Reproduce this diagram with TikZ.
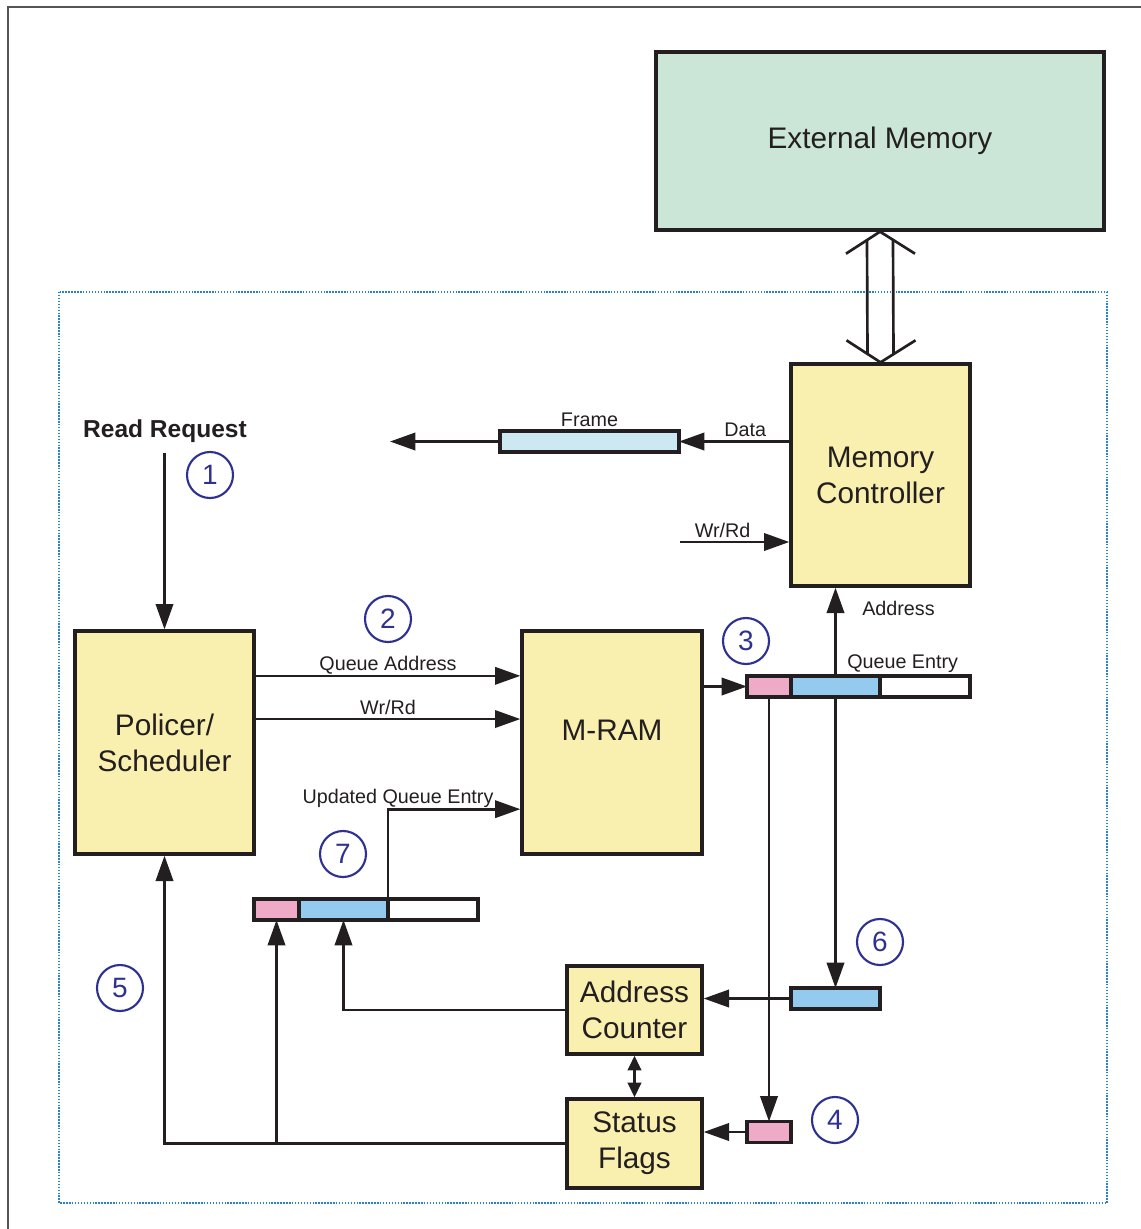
\documentclass[tikz,border=0pt]{standalone}
\usepackage{fontspec}
\setmainfont{Liberation Sans}
\usetikzlibrary{
  	positioning,
  	arrows.meta,
  	calc
  }
\definecolor{ink}{RGB}{35,31,32}
\definecolor{boxyellow}{RGB}{249,240,175}
\definecolor{memgreen}{RGB}{203,230,214}
\definecolor{framecyan}{RGB}{204,232,243}
\definecolor{entryblue}{RGB}{148,202,238}
\definecolor{entrypink}{RGB}{239,170,199}
\definecolor{numblue}{RGB}{46,49,146}
\definecolor{dotblue}{RGB}{40,130,200}
\definecolor{framegray}{RGB}{85,85,85}

\begin{document}
\begin{tikzpicture}[x=.75pt, y=-.75pt, >={Triangle[length=19pt,width=13pt]},
  blockbox/.style={draw=ink, line width=2.5pt, fill=boxyellow, align=center, inner sep=0pt, text=ink, font=\fontsize{22.3}{27}\selectfont},
  cell/.style={draw=ink, line width=2.3pt, minimum height=15.75pt, inner sep=0pt, outer sep=0pt},
  wire/.style={draw=ink, line width=2pt},
  lbl/.style={font=\fontsize{14.8}{17}\selectfont, inner sep=0pt, text=ink},
  stepnum/.style={circle, draw=numblue, text=numblue, line width=1.6pt, minimum size=34.5pt, inner sep=0pt, font=\fontsize{21}{24}\selectfont}]
	\useasboundingbox (0,0) rectangle (1141,1229);
	\draw[framegray, line width=2pt] (8,1240) -- (8,7) -- (1150,7);
	\draw[dotblue, line width=1.1pt, dash pattern=on 1.1pt off 1.1pt] (59,292) rectangle (1107,1203);
%
	\node[blockbox, fill=memgreen, minimum width=336pt, minimum height=133.5pt] (em) at (880,141) {External Memory};
	\node[blockbox, minimum width=134.25pt, minimum height=166.5pt] (mc) at (880.5,475) {Memory\\Controller};
	\node[blockbox, minimum width=134.25pt, minimum height=167.25pt] (ps) at (164.5,742.5) {Policer/\\Scheduler};
	\node[blockbox, minimum width=135pt, minimum height=167.25pt] (mram) at (612,742.5) {};
	\node[font=\fontsize{22.3}{27}\selectfont, text=ink] (mramtext) at (612,730) {M-RAM};
	\node[blockbox, minimum width=101.25pt, minimum height=66pt] (ac) at (634.5,1010) {Address\\Counter};
	\node[blockbox, minimum width=101.25pt, minimum height=66.75pt] (sf) at (634.5,1143.5) {Status\\Flags};
%
	\node[cell, fill=framecyan, minimum width=134.25pt] (frame) at (589.5,441.5) {};
	\node[lbl, above=3pt of frame] (framelab) {Frame};
%
	\node[cell, fill=entrypink, minimum width=33pt] (qeP) at (769,686.5) {};
	\node[cell, fill=entryblue, minimum width=66.75pt, right=0pt of qeP] (qeB) {};
	\node[cell, fill=white, minimum width=67.5pt, right=0pt of qeB] (qeW) {};
	\node[lbl, anchor=south west] (qelab) at ([xshift=-24.75pt, yshift=2pt]qeW.north west) {Queue Entry};
%
	\node[cell, fill=entrypink, minimum width=33.75pt] (u7P) at (276.5,909.5) {};
	\node[cell, fill=entryblue, minimum width=66.75pt, right=0pt of u7P] (u7B) {};
	\node[cell, fill=white, minimum width=67.5pt, right=0pt of u7B] (u7W) {};
%
	\node[cell, fill=entryblue, minimum width=66.75pt] (acB) at (835.5,998.5) {};
	\node[cell, fill=entrypink, minimum width=33pt] (sfP) at (769,1132) {};
%
	\node[font=\bfseries\fontsize{18.4}{22}\selectfont, text=ink, inner sep=0pt] (rr) at (165,431.5) {Read Request};
	\node[lbl, anchor=west] (addrlab) at (862,608) {Address};
	\node[lbl] (updlab) at (398,798.5) {Updated Queue Entry};
	\coordinate (frameout) at (390,441.5);
	\coordinate (wrrd) at (680,542);
	\coordinate (updin) at ([yshift=-50pt]mram.west);
%
	\foreach \n/\x/\y in {1/210/475, 2/388/619, 3/746/641, 4/835/1120, 5/120/988, 6/880/942, 7/343/854}
		\node[stepnum] (num\n) at (\x,\y) {\n};
%
	% external memory link
	\draw[wire] ($(em.south)+(-34,22)$) -- (em.south) -- ($(em.south)+(35,22)$);
	\draw[wire] ($(mc.north)+(-34,-22)$) -- (mc.north) -- ($(mc.north)+(35,-22)$);
	\draw[wire] ($(em.south)+(-13,8)$) -- ($(mc.north)+(-13,-8)$);
	\draw[wire] ($(em.south)+(13,8)$) -- ($(mc.north)+(13,-8)$);
%
	\draw[wire, ->] (frame.east -| mc.west) -- (frame.east) node[lbl, above=2.5pt, pos=.4] (datalab) {Data};
	\draw[wire, ->] (frame.west) -- (frameout);
	\draw[wire, ->] (wrrd) -- (wrrd -| mc.west) node[lbl, above=2.5pt, pos=.39] (wrlab) {Wr/Rd};
	\draw[wire, ->, shorten <=7pt] (rr.south -| ps.north) -- (ps.north);
%
	\draw[wire, ->] ([yshift=50pt]ps.east) -- ([yshift=50pt]mram.west) node[lbl, above=0pt, midway] (qalab) {Queue Address};
	\draw[wire, ->] ([yshift=17.6pt]ps.east) -- ([yshift=17.6pt]mram.west) node[lbl, above=2.5pt, midway] (wrlab2) {Wr/Rd};
	\draw[wire, ->] (u7B.north east) |- (updin);
	\draw[wire, ->] (qeP.west -| mram.east) -- (qeP.west);
%
	\draw[wire, ->] (qeB.north) -- (qeB.north |- mc.south);
	\draw[wire, ->] (qeB.south) -- (acB.north);
	\draw[wire, ->] (qeP.south) -- (sfP.north);
	\draw[wire, ->] (acB.west) -- (acB.west -| ac.east);
	\draw[wire, ->] (sfP.west) -- (sfP.west -| sf.east);
	\draw[wire, {Triangle[length=11pt,width=10pt]}-{Triangle[length=11pt,width=10pt]}] (ac.south) -- (sf.north);
%
	\draw[wire, ->] (ac.west) -| (u7B.south);
	\draw[wire, ->] (sf.west) -| (ps.south);
	\draw[wire, ->] (u7P.south |- sf.west) -- (u7P.south);
\end{tikzpicture}
\end{document}
